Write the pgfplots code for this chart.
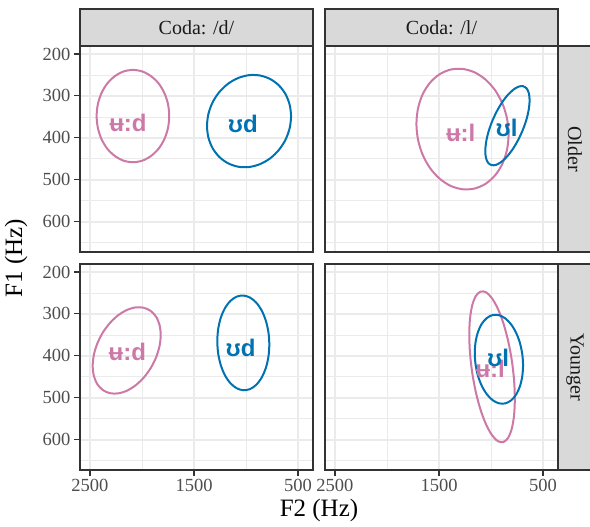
\documentclass[border=0pt]{standalone}
\usepackage{fontspec}
\setmainfont{Liberation Serif}
\newfontfamily\ipafont{Liberation Sans}
\usepackage{pgfplots}
\pgfplotsset{compat=1.18}

\definecolor{pinkc}{RGB}{204,121,167}
\definecolor{bluec}{RGB}{0,114,178}
\definecolor{gray92}{RGB}{235,235,235}
\definecolor{gray85}{RGB}{217,217,217}
\definecolor{gray20}{RGB}{51,51,51}
\definecolor{gray30}{RGB}{77,77,77}
\definecolor{gray10}{RGB}{26,26,26}

\pgfplotsset{
  panel/.style={
    scale only axis, width=233pt, height=206pt,
    xmin=356, xmax=2596, ymin=181, ymax=672,
    x dir=reverse, y dir=reverse,
    xtick={500,1500,2500}, minor xtick={1000,2000},
    ytick={200,300,400,500,600}, minor ytick={250,350,450,550,650},
    grid=both,
    major grid style={color=gray92, line width=1.6pt},
    minor grid style={color=gray92, line width=0.8pt},
    axis line style={gray20, line width=1.1pt},
    tick style={gray20, line width=1.1pt},
    tick align=outside, tick pos=left,
    major tick length=6pt, minor tick length=0pt,
    tick label style={font=\fontsize{18.5}{18.5}\selectfont, text=gray30},
    /pgf/number format/assume math mode=true,
    /pgf/number format/1000 sep={},
  },
  ell/.style={line width=2pt, smooth cycle},
}
\tikzset{lab/.style={font=\ipafont\bfseries\fontsize{24}{24}\selectfont}}

\begin{document}
\begin{tikzpicture}
\useasboundingbox (0,0) rectangle (590pt,-527pt);

% Older, coda /d/
\begin{axis}[panel, at={(80pt,-252pt)}, anchor=south west,
  xticklabels={}, xtick style={draw=none}]
\addplot[ell, pinkc] coordinates {
(2436,348) (2424.1,376.5) (2389,403) (2333.7,425.8) (2261.5,443) (2177.4,454.3)
(2087,458) (1996.6,454.3) (1912.5,443) (1840.3,425.8) (1785,403) (1749.9,376.5)
(1738,348) (1749.9,319.5) (1785,293) (1840.3,270.2) (1912.5,253) (1996.6,241.7)
(2087,238) (2177.4,241.7) (2261.5,253) (2333.7,270.2) (2389,293) (2424.1,319.5)};
\addplot[ell, bluec] coordinates {
(1375,371.5) (1361.3,399.4) (1321,424.7) (1256.6,445.5) (1173,460.5) (1075.6,468.7)
(971,469.5) (866.4,462.7) (769,449) (685.4,429.2) (621,404.8) (580.7,377.2)
(567,348.5) (580.7,320.6) (621,295.3) (685.4,274.5) (769,259.5) (866.4,251.3)
(971,250.5) (1075.6,257.3) (1173,271) (1256.6,290.8) (1321,315.2) (1361.3,342.8)};
\node[lab, text=pinkc] at (axis cs:2135,365) {ʉ:d};
\node[lab, text=bluec] at (axis cs:1029,367) {ʊd};
\end{axis}

% Older, coda /l/
\begin{axis}[panel, at={(325pt,-252pt)}, anchor=south west,
  xticklabels={}, xtick style={draw=none},
  yticklabels={}, ytick style={draw=none}]
\addplot[ell, pinkc] coordinates {
(1717,366.5) (1701.9,404.1) (1657.6,439.9) (1587.2,471.6) (1495.5,496.9) (1388.7,514.4)
(1274,522.4) (1159.3,520.8) (1052.5,509.5) (960.8,489.3) (890.4,461.7) (846.1,428.2)
(831,391.5) (846.1,353.9) (890.4,318.1) (960.8,286.4) (1052.5,261.1) (1159.3,243.6)
(1274,235.6) (1388.7,237.2) (1495.5,248.5) (1587.2,268.7) (1657.6,296.3) (1701.9,329.8)};
\addplot[ell, bluec] coordinates {
(1055,431.8) (1047.8,448.4) (1026.5,459.8) (992.6,465.1) (948.5,464.1) (897.2,456.6)
(842,443.4) (786.8,425.2) (735.5,403.3) (691.4,379.2) (657.5,354.6) (636.2,331)
(629,310.2) (636.2,293.6) (657.5,282.2) (691.4,276.9) (735.5,277.9) (786.8,285.4)
(842,298.6) (897.2,316.8) (948.5,338.7) (992.6,362.8) (1026.5,387.4) (1047.8,411)};
\node[lab, text=pinkc] at (axis cs:1291,389) {ʉ:l};
\node[lab, text=bluec] at (axis cs:849,377) {ʊl};
\end{axis}

% Younger, coda /d/
\begin{axis}[panel, at={(80pt,-470pt)}, anchor=south west]
\addplot[ell, pinkc] coordinates {
(2474,423.9) (2462.9,447.6) (2430.2,467) (2378.2,481.1) (2310.5,488.8) (2231.7,489.5)
(2147,483.2) (2062.3,470.3) (1983.5,451.8) (1915.8,428.9) (1863.8,403.1) (1831.1,376.2)
(1820,350.1) (1831.1,326.4) (1863.8,307) (1915.8,292.9) (1983.5,285.2) (2062.3,284.5)
(2147,290.8) (2231.7,303.7) (2310.5,322.2) (2378.2,345.1) (2430.2,370.9) (2462.9,397.8)};
\addplot[ell, bluec] coordinates {
(1276,365) (1267.5,394.4) (1242.5,422) (1202.8,446.1) (1151,464.8) (1090.8,477)
(1026,481.9) (961.2,479.1) (901,468.8) (849.2,451.6) (809.5,428.9) (784.5,402)
(776,373) (784.5,343.6) (809.5,316) (849.2,291.9) (901,273.2) (961.2,261)
(1026,256.1) (1090.8,258.9) (1151,269.2) (1202.8,286.4) (1242.5,309.1) (1267.5,336)};
\node[lab, text=pinkc] at (axis cs:2141,390) {ʉ:d};
\node[lab, text=bluec] at (axis cs:1051,380) {ʊd};
\end{axis}

% Younger, coda /l/
\begin{axis}[panel, at={(325pt,-470pt)}, anchor=south west,
  yticklabels={}, ytick style={draw=none}]
\addplot[ell, pinkc] coordinates {
(1209,349.9) (1201.6,394.7) (1179.7,441.7) (1144.8,487.6) (1099.5,529.3) (1046.7,563.9)
(990,589.1) (933.3,603.3) (880.5,605.3) (835.2,595.2) (800.3,573.4) (778.4,541.7)
(771,502.1) (778.4,457.3) (800.3,410.3) (835.2,364.4) (880.5,322.7) (933.3,288.1)
(990,262.9) (1046.7,248.7) (1099.5,246.7) (1144.8,256.8) (1179.7,278.6) (1201.6,310.3)};
\addplot[ell, bluec] coordinates {
(1156,393.3) (1148.1,420.9) (1124.9,447.8) (1088,471.8) (1040,491.5) (984.1,505.6)
(924,513) (863.9,513.3) (808,506.3) (760,492.7) (723.1,473.3) (699.9,449.4)
(692,422.7) (699.9,395.1) (723.1,368.3) (760,344.2) (808,324.5) (863.9,310.4)
(924,303) (984.1,302.7) (1040,309.7) (1088,323.3) (1124.9,342.7) (1148.1,366.6)};
\node[lab, text=pinkc] at (axis cs:1008,430) {ʉ:l};
\node[lab, text=bluec] at (axis cs:931,406) {ʊl};
\end{axis}

% facet strips
\begin{scope}[every node/.style={font=\fontsize{20}{20}\selectfont, text=gray10}]
\draw[gray20, fill=gray85, line width=1.1pt] (80pt,-9pt) rectangle (313pt,-46pt);
\node at (196.5pt,-27.5pt) {Coda: /d/};
\draw[gray20, fill=gray85, line width=1.1pt] (325pt,-9pt) rectangle (558pt,-46pt);
\node at (441.5pt,-27.5pt) {Coda: /l/};
\draw[gray20, fill=gray85, line width=1.1pt] (558pt,-46pt) rectangle (592pt,-252pt);
\node[rotate=-90] at (575pt,-149pt) {Older};
\draw[gray20, fill=gray85, line width=1.1pt] (558pt,-264pt) rectangle (592pt,-470pt);
\node[rotate=-90] at (575pt,-367pt) {Younger};
\end{scope}

% axis titles
\node[font=\fontsize{25}{25}\selectfont, rotate=90] at (16pt,-258pt) {F1 (Hz)};
\node[font=\fontsize{25}{25}\selectfont] at (319pt,-510pt) {F2 (Hz)};
\end{tikzpicture}
\end{document}
